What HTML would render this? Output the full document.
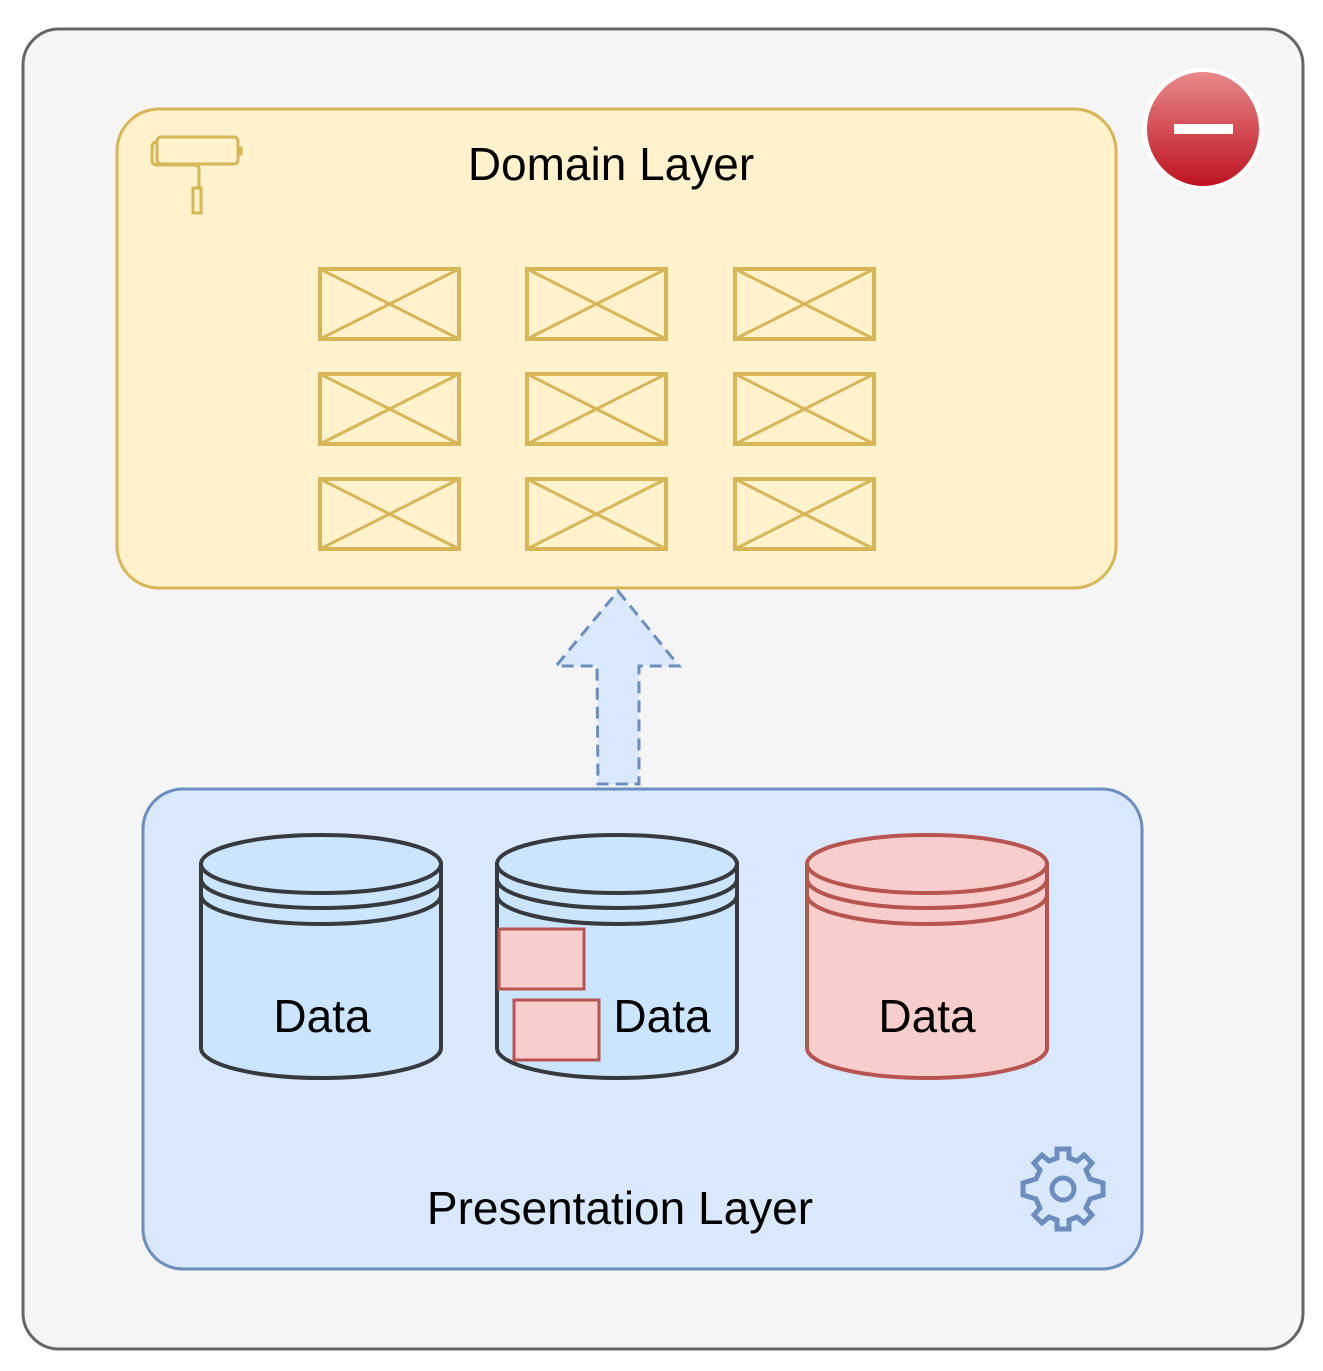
<!DOCTYPE html>
<html><head><meta charset="utf-8"><style>
html,body{margin:0;padding:0;background:#fff;}
svg{display:block;}
text{font-family:"Comic Sans MS","Liberation Sans",sans-serif;fill:#000;}
</style></head><body>
<svg width="1323" height="1371" viewBox="0 0 1323 1371" xmlns="http://www.w3.org/2000/svg">
<defs>
<linearGradient id="rg" x1="0" y1="0" x2="0" y2="1">
<stop offset="0" stop-color="#e8888a"/><stop offset="1" stop-color="#be1421"/>
</linearGradient>
<g id="wf"><rect x="0" y="0" width="139" height="70" fill="none" stroke="#d6b656" stroke-width="4"/><path d="M0 0L139 70M139 0L0 70" stroke="#d6b656" stroke-width="3"/></g>
</defs>
<rect x="23" y="29" width="1280" height="1320" rx="36" fill="#f5f5f5" stroke="#666" stroke-width="3"/>
<rect x="117" y="109" width="999" height="479" rx="42" fill="#fff2cc" stroke="#d6b656" stroke-width="3"/>
<text x="611" y="180" font-size="46" text-anchor="middle">Domain Layer</text>
<!-- roller -->
<g fill="none" stroke="#d6b656" stroke-width="3">
<rect x="157" y="137" width="81" height="27" rx="4"/>
<path d="M157 142 Q152 142 152 148 L152 160 Q152 165 158 165 L195 165 Q199 165 199 170 L199 188"/>
<rect x="193" y="188" width="8" height="25"/>
<path d="M238 148 L241 148 L241 154 L238 154"/>
</g>
<use href="#wf" x="320" y="269"/><use href="#wf" x="527" y="269"/><use href="#wf" x="735" y="269"/>
<use href="#wf" x="320" y="374"/><use href="#wf" x="527" y="374"/><use href="#wf" x="735" y="374"/>
<use href="#wf" x="320" y="479"/><use href="#wf" x="527" y="479"/><use href="#wf" x="735" y="479"/>
<!-- red minus -->
<circle cx="1203" cy="129" r="61" fill="#fff"/>
<ellipse cx="1203" cy="129" rx="56" ry="57" fill="url(#rg)"/>
<rect x="1174" y="124" width="59" height="10" fill="#fff"/>
<!-- presentation -->
<rect x="143" y="789" width="999" height="480" rx="40" fill="#dae8fc" stroke="#6c8ebf" stroke-width="3"/>
<!-- arrow -->
<path d="M618 591 L679 666 L639 666 L639 784 L598 784 L597 666 L556 666 Z" fill="#dae8fc" stroke="#6c8ebf" stroke-width="3" stroke-dasharray="12 7"/>
<!-- cylinders -->
<g stroke="#36393d" stroke-width="4" fill="#cce5ff">
<path d="M201 864 L201 1048 A120 30 0 0 0 441 1048 L441 864 Z"/>
<ellipse cx="321" cy="864" rx="120" ry="29"/>
<path d="M201 879 A120 29 0 0 0 441 879 M201 895 A120 29 0 0 0 441 895" fill="none"/>
<path d="M497 864 L497 1048 A120 30 0 0 0 737 1048 L737 864 Z"/>
<ellipse cx="617" cy="864" rx="120" ry="29"/>
<path d="M497 879 A120 29 0 0 0 737 879 M497 895 A120 29 0 0 0 737 895" fill="none"/>
</g>
<g stroke="#b85450" stroke-width="4" fill="#f8cecc">
<path d="M807 864 L807 1048 A120 30 0 0 0 1047 1048 L1047 864 Z"/>
<ellipse cx="927" cy="864" rx="120" ry="29"/>
<path d="M807 879 A120 29 0 0 0 1047 879 M807 895 A120 29 0 0 0 1047 895" fill="none"/>
<rect x="499" y="929" width="85" height="60" stroke-width="3"/>
<rect x="514" y="1000" width="85" height="60" stroke-width="3"/>
</g>
<text x="322" y="1032" font-size="46" text-anchor="middle">Data</text>
<text x="662" y="1032" font-size="46" text-anchor="middle">Data</text>
<text x="927" y="1032" font-size="46" text-anchor="middle">Data</text>
<text x="620" y="1224" font-size="46" text-anchor="middle">Presentation Layer</text>
<!-- gear -->
<g transform="translate(1063,1189)" fill="none" stroke="#6c8ebf" stroke-width="5">
<path d="M-6 -40 L6 -40 L6 -31 L14 -28 L21 -34 L29 -26 L23 -19 L27 -10 L40 -6 L40 6 L27 10 L23 19 L29 26 L21 34 L14 28 L6 31 L6 40 L-6 40 L-6 31 L-14 28 L-21 34 L-29 26 L-23 19 L-27 10 L-40 6 L-40 -6 L-27 -10 L-23 -19 L-29 -26 L-21 -34 L-14 -28 L-6 -31 Z" stroke-linejoin="miter"/>
<circle r="11"/>
</g>
</svg>
</body></html>
